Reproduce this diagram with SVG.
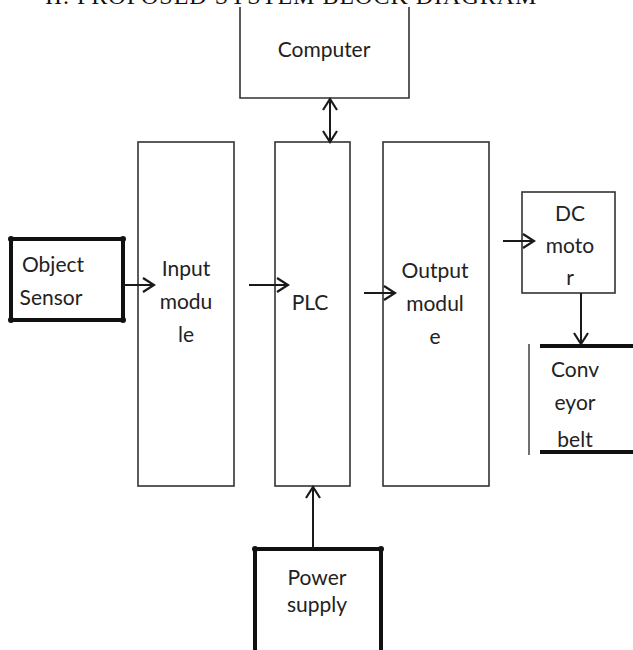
<svg xmlns="http://www.w3.org/2000/svg" width="633" height="650" viewBox="0 0 633 650">
<defs>
<marker id="head" viewBox="-14 -10 16 20" refX="0" refY="0" markerWidth="16" markerHeight="20" markerUnits="userSpaceOnUse" orient="auto-start-reverse">
<path d="M-11,-7 L0,0 L-11,7" fill="none" stroke="#1a1a1a" stroke-width="2.2" stroke-linejoin="miter"/>
</marker>
</defs>
<style>
.box{fill:none;stroke:#333;stroke-width:1.6}
.thick{fill:none;stroke:#111;stroke-width:4}
.lbl{font-family:Lato,"Liberation Sans",sans-serif;font-size:21px;fill:#222;text-anchor:middle}
.title{font-family:"Liberation Serif",serif;font-size:24px;fill:#111;letter-spacing:1px}
.conn{fill:none;stroke:#1a1a1a;stroke-width:2;marker-end:url(#head)}
.dot{fill:#111}
</style>
<rect width="633" height="650" fill="#fff"/>
<text class="title" x="45" y="4">II.  PROPOSED SYSTEM BLOCK DIAGRAM</text>

<g id="computer">
<path class="box" d="M240,7 V98 H409 V7"/>
<text class="lbl" x="324" y="57">Computer</text>
</g>
<g id="object-sensor">
<rect class="thick" x="11" y="239" width="112" height="81"/>
<circle class="dot" cx="11" cy="239" r="3"/><circle class="dot" cx="123" cy="239" r="3"/>
<circle class="dot" cx="11" cy="320" r="3"/><circle class="dot" cx="123" cy="320" r="3"/>
<text class="lbl" x="53" y="272">Object</text>
<text class="lbl" x="51" y="305">Sensor</text>
</g>
<g id="input-module">
<rect class="box" x="138" y="142" width="96" height="344"/>
<text class="lbl" x="186" y="276">Input</text>
<text class="lbl" x="186" y="309">modu</text>
<text class="lbl" x="186" y="342">le</text>
</g>
<g id="plc">
<rect class="box" x="275" y="142" width="75" height="344"/>
<text class="lbl" x="310" y="310">PLC</text>
</g>
<g id="output-module">
<rect class="box" x="383" y="142" width="106" height="344"/>
<text class="lbl" x="435" y="278">Output</text>
<text class="lbl" x="435" y="311">modul</text>
<text class="lbl" x="435" y="344">e</text>
</g>
<g id="dc-motor">
<rect class="box" x="522" y="192" width="93" height="101"/>
<text class="lbl" x="570" y="221">DC</text>
<text class="lbl" x="570" y="253">moto</text>
<text class="lbl" x="570" y="285">r</text>
</g>
<g id="conveyor-belt">
<line x1="540" y1="346" x2="633" y2="346" stroke="#111" stroke-width="4"/>
<line x1="540" y1="452" x2="633" y2="452" stroke="#111" stroke-width="4"/>
<line x1="529" y1="344" x2="529" y2="455" stroke="#333" stroke-width="1.4"/>
<text class="lbl" x="575" y="377">Conv</text>
<text class="lbl" x="575" y="410">eyor</text>
<text class="lbl" x="575" y="447">belt</text>
</g>
<g id="power-supply">
<path class="thick" d="M255,652 V549 H381 V652"/>
<circle class="dot" cx="255" cy="549" r="3"/><circle class="dot" cx="381" cy="549" r="3"/>
<text class="lbl" x="317" y="585">Power</text>
<text class="lbl" x="317" y="612">supply</text>
</g>

<g id="connectors">
<line class="conn" x1="123" y1="285" x2="154" y2="285"/>
<line class="conn" x1="249" y1="285" x2="288" y2="285"/>
<line class="conn" x1="364" y1="293" x2="395" y2="293"/>
<line class="conn" x1="503" y1="241" x2="534" y2="241"/>
<line class="conn" x1="581" y1="293" x2="581" y2="344"/>
<line class="conn" x1="313" y1="549" x2="313" y2="487"/>
<line class="conn" x1="330" y1="99" x2="330" y2="142" style="marker-start:url(#head)"/>
</g>
</svg>
